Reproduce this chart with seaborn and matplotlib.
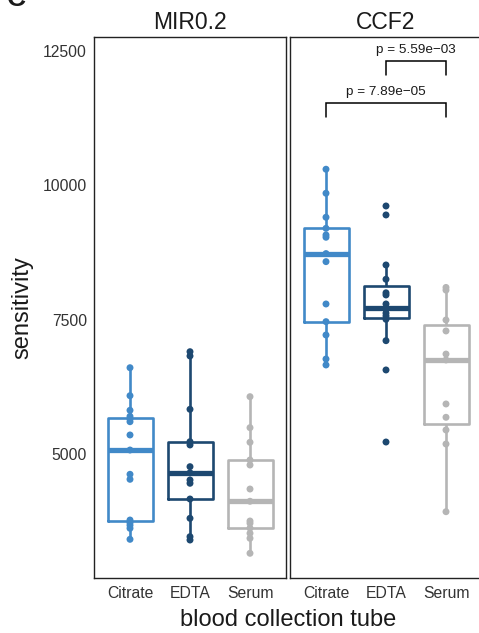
import matplotlib
matplotlib.use("Agg")
import matplotlib.pyplot as plt
import seaborn as sns
import pandas as pd

# ---------------- data ----------------
order = ["Citrate", "EDTA", "Serum"]
panels = ["MIR0.2", "CCF2"]

mir_citrate = [6606, 6085, 5813, 5700, 5652, 5601, 5354, 5074, 4622, 4529, 3771, 3721, 3673, 3617, 3412]
mir_edta = [6904, 6824, 5832, 5229, 5168, 4764, 4650, 4516, 4455, 4162, 3803, 3461, 3399]
mir_serum = [6067, 5490, 5218, 4888, 4795, 4348, 4120, 3753, 3710, 3620, 3524, 3431, 3152]

ccf_citrate = [10300, 9853, 9406, 9200, 9077, 9034, 8730, 8580, 7792, 7463, 7215, 6768, 6657]
ccf_edta = [9616, 9449, 8518, 8252, 8000, 7960, 7792, 7712, 7690, 7620, 7569, 7507, 7109, 6564, 5223]
ccf_serum = [8100, 8050, 7494, 7290, 6860, 6750, 5931, 5683, 5447, 5186, 3926]

comparisons = [("Citrate", "Serum"), ("EDTA", "Serum")]
p_labels = ["p = 7.89e\u221205", "p = 5.59e\u221203"]
bracket_y = [11540, 12316]
bracket_drop = 261
label_y = [11739, 12520]

y_ticks = [5000, 7500, 10000, 12500]
y_lim = (2692, 12761)

colors = {"Citrate": "#4189C8", "EDTA": "#1D4870", "Serum": "#B5B5B5"}

rows = []
for panel, groups in zip(panels, [(mir_citrate, mir_edta, mir_serum),
                                   (ccf_citrate, ccf_edta, ccf_serum)]):
    for tube, vals in zip(order, groups):
        for v in vals:
            rows.append({"panel": panel, "tube": tube, "value": v})
df = pd.DataFrame(rows)

# ---------------- plot ----------------
sns.set_theme(style="white")
plt.rcParams["font.family"] = ["Liberation Sans", "DejaVu Sans"]

W, H = 479, 633
fig = plt.figure(figsize=(W / 100, H / 100), dpi=100)

def fx(px):
    return px / W

def fy(py):
    return 1 - py / H

left, top, bottom, pw = 94, 37, 578, 192
axes = [
    fig.add_axes([fx(left), fy(bottom), fx(pw), (bottom - top) / H]),
    fig.add_axes([fx(290), fy(bottom), fx(pw), (bottom - top) / H]),
]

for ax, panel in zip(axes, panels):
    d = df[df.panel == panel]
    sns.boxplot(data=d, x="tube", y="value", hue="tube", order=order, hue_order=order,
                palette=colors, fill=False, width=0.75, linewidth=1.9, showfliers=False,
                legend=False, medianprops=dict(linewidth=3.8), capprops=dict(linewidth=0),
                ax=ax)
    sns.stripplot(data=d, x="tube", y="value", hue="tube", order=order, hue_order=order,
                  palette=colors, jitter=False, size=5.0, linewidth=0, legend=False,
                  zorder=4, ax=ax)
    ax.set_xlim(-0.6, 2.6)
    ax.set_ylim(*y_lim)
    ax.set_xlabel("")
    ax.set_ylabel("")
    for s in ax.spines.values():
        s.set_visible(True)
        s.set_color("#222222")
        s.set_linewidth(1.0)
    ax.tick_params(axis="both", which="both", length=2.5, width=0.8, color="#333333",
                   labelsize=11.3, labelcolor="#333333", pad=2.5, direction="out")
    ax.tick_params(axis="x", pad=3.5)
    ax.set_title(panel, fontsize=16.5, color="#1a1a1a", pad=6)
    ax.grid(False)

axes[0].set_yticks(y_ticks)
axes[0].set_yticklabels([str(t) for t in y_ticks])
axes[1].set_yticks([])

# significance brackets on CCF2 panel
ax = axes[1]
for (a, b), lab, yb, yl in zip(comparisons, p_labels, bracket_y, label_y):
    xa, xb = order.index(a), order.index(b)
    ax.plot([xa, xa, xb, xb], [yb - bracket_drop, yb, yb, yb - bracket_drop],
            color="black", lw=1.1, clip_on=False, solid_joinstyle="miter")
    ax.text((xa + xb) / 2, yl, lab, ha="center", va="center", fontsize=9.7, color="#1a1a1a")

fig.text(fx(288), fy(620), "blood collection tube", ha="center", va="center",
         fontsize=17, color="#1a1a1a")
fig.text(fx(22), fy((top + bottom) / 2), "sensitivity", ha="center", va="center",
         rotation=90, fontsize=17, color="#1a1a1a")
fig.text(fx(7), fy(5.5), "C", ha="left", va="baseline", fontsize=19, fontweight="bold",
         color="#1a1a1a")

fig.savefig("out.png", dpi=100)
